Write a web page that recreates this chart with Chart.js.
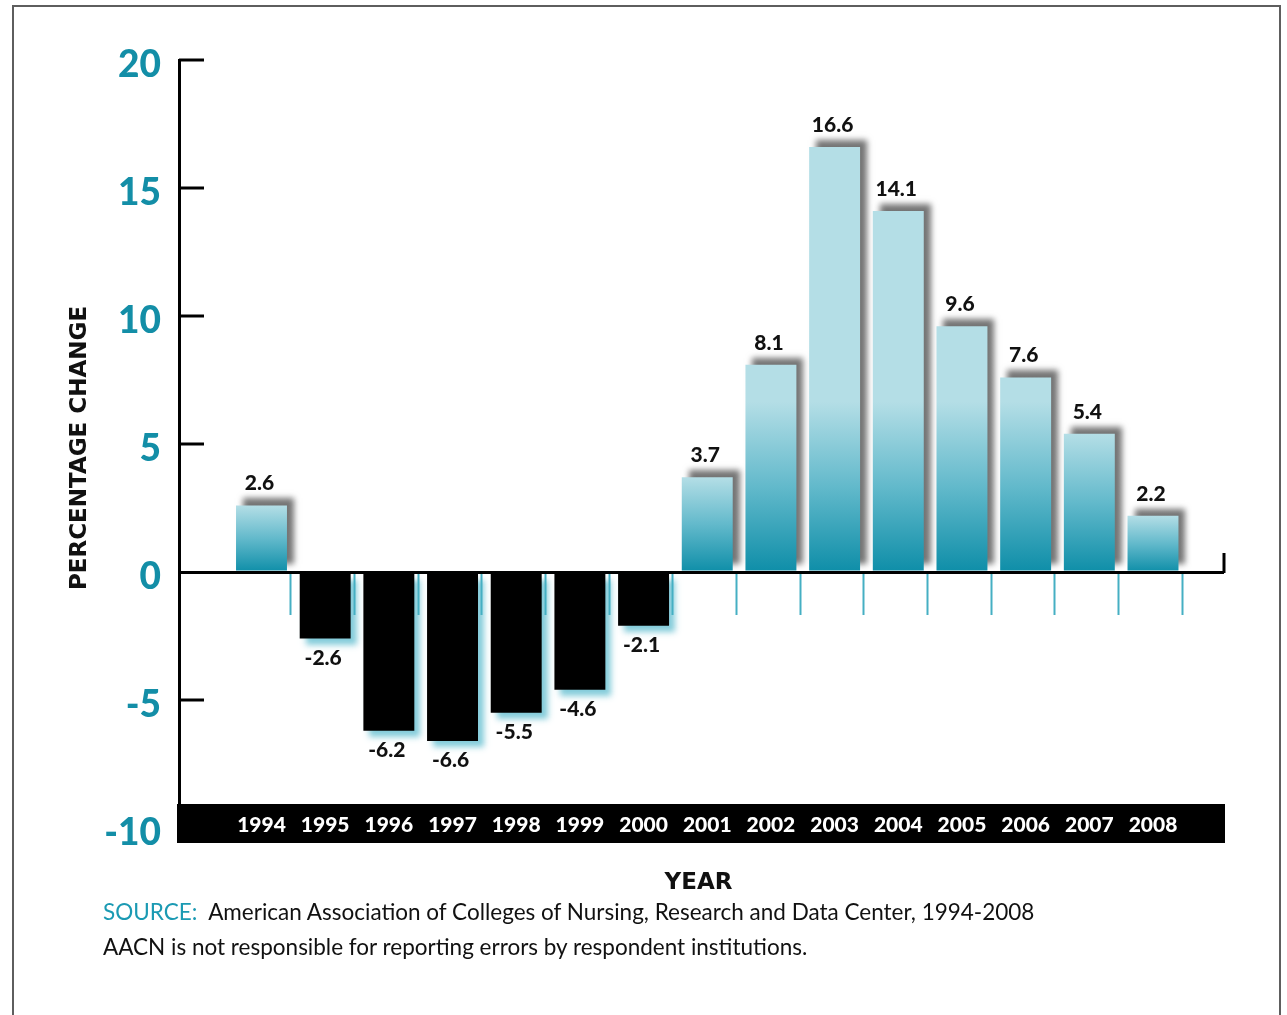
<!DOCTYPE html>
<html><head><meta charset="utf-8">
<script src="https://cdn.jsdelivr.net/npm/chart.js@4.4.1/dist/chart.umd.min.js"></script>
<style>
html,body{margin:0;padding:0;background:#fff;overflow:hidden;}
#wrap{position:relative;width:1287px;height:1015px;overflow:hidden;}
#frame{position:absolute;left:12px;top:5px;width:1265px;height:1100px;border:2px solid #5e5e5e;border-bottom:none;}
#chart{position:absolute;left:0;top:0;width:1287px;height:1015px;}
.note{position:absolute;left:103px;font-family:Lato, sans-serif;font-size:22.5px;color:#111;white-space:nowrap;}
</style></head>
<body><div id="wrap"><div id="frame"></div><div id="chart"><canvas id="c"></canvas></div>
<div class="note" style="top:898px"><span style="color:#1b9ab3">SOURCE:</span>&nbsp; American Association of Colleges of Nursing, Research and Data Center, 1994-2008</div>
<div class="note" style="top:933px">AACN is not responsible for reporting errors by respondent institutions.</div>
</div>
<script>
const years = ['1994','1995','1996','1997','1998','1999','2000','2001','2002','2003','2004','2005','2006','2007','2008'];
const values = [2.6,-2.6,-6.2,-6.6,-5.5,-4.6,-2.1,3.7,8.1,16.6,14.1,9.6,7.6,5.4,2.2];
const yTicks = [20,15,10,5,0,-5,-10];
const yTitle = 'PERCENTAGE CHANGE';
const xTitle = 'YEAR';

const posData = values.map((v,i)=>({x:i, y: v>=0 ? v : null}));
const negData = values.map((v,i)=>({x:i, y: v<0 ? v : null}));

function posGradient(context){
  const chart = context.chart;
  const ys = chart.scales.y;
  if (!chart.chartArea || !ys) return '#6bbfcf';
  const v = values[context.dataIndex];
  const top = ys.getPixelForValue(v), base = ys.getPixelForValue(0);
  const h = Math.max(base - top, 1);
  const g = chart.ctx.createLinearGradient(0, top, 0, base);
  const f = Math.max(0, 1 - 170 / h);
  g.addColorStop(0, '#b4dee6');
  g.addColorStop(f, '#b4dee6');
  g.addColorStop(f + (1 - f) * 0.5, '#62b9cb');
  g.addColorStop(1, '#0e8ea8');
  return g;
}

const deco = {
  id: 'deco',
  beforeDraw(chart){
    const {ctx, chartArea: a} = chart;
    ctx.save();
    ctx.fillStyle = '#000';
    ctx.fillRect(a.left - 2, a.bottom, a.right - a.left + 3, 39);
    ctx.restore();
  },
  beforeDatasetDraw(chart, args){
    const ctx = chart.ctx;
    ctx.save();
    if (args.index === 0) {
      ctx.shadowColor = 'rgba(70,70,70,0.75)';
      ctx.shadowOffsetX = 7; ctx.shadowOffsetY = -7; ctx.shadowBlur = 6;
    } else {
      ctx.shadowColor = 'rgba(110,195,212,0.85)';
      ctx.shadowOffsetX = 6; ctx.shadowOffsetY = 6; ctx.shadowBlur = 6;
    }
  },
  afterDatasetDraw(chart){ chart.ctx.restore(); },
  afterDatasetsDraw(chart){
    const {ctx, chartArea: a, scales: {x, y}} = chart;
    const zy = y.getPixelForValue(0);
    ctx.save();
    ctx.strokeStyle = '#000'; ctx.lineWidth = 3;
    yTicks.forEach(v => {
      if (v === 0 || v === -10) return;
      const py = y.getPixelForValue(v);
      ctx.beginPath(); ctx.moveTo(a.left, py); ctx.lineTo(a.left + 25, py); ctx.stroke();
    });
    ctx.beginPath(); ctx.moveTo(a.right, zy + 1); ctx.lineTo(a.right, zy - 19); ctx.stroke();
    ctx.strokeStyle = '#45afc3'; ctx.lineWidth = 2;
    years.forEach((_, i) => {
      const px = Math.round(x.getPixelForValue(i + 0.45)) + 0.5;
      ctx.beginPath(); ctx.moveTo(px, zy + 2); ctx.lineTo(px, zy + 43); ctx.stroke();
    });
    ctx.fillStyle = '#111';
    ctx.font = '900 21px Lato, sans-serif';
    ctx.textAlign = 'center';
    ctx.textBaseline = 'alphabetic';
    chart.data.datasets.forEach((ds, di) => {
      const meta = chart.getDatasetMeta(di);
      meta.data.forEach((el, i) => {
        const v = ds.data[i].y;
        if (v === null) return;
        const txt = v.toFixed(1);
        if (v >= 0) ctx.fillText(txt, el.x - 2, el.y - 15);
        else ctx.fillText(txt, el.x - 2, el.y + 26);
      });
    });
    ctx.font = 'bold 23px "DejaVu Sans", sans-serif';
    ctx.textBaseline = 'middle';
    ctx.fillText(xTitle, (a.left + a.right) / 2 - 3, a.bottom + 79);
    ctx.save();
    ctx.translate(a.left - 99, zy - 124);
    ctx.rotate(-Math.PI / 2);
    ctx.fillText(yTitle, 0, 0);
    ctx.restore();
    ctx.restore();
  }
};

new Chart(document.getElementById('c'), {
  type: 'bar',
  data: {
    datasets: [
      { label: 'Increase', data: posData, backgroundColor: posGradient, grouped: false, categoryPercentage: 1, barPercentage: 0.8, borderWidth: 0 },
      { label: 'Decrease', data: negData, backgroundColor: '#000', grouped: false, categoryPercentage: 1, barPercentage: 0.8, borderWidth: 0 }
    ]
  },
  options: {
    responsive: true,
    maintainAspectRatio: false,
    animation: false,
    layout: { padding: { top: 60, right: 63, bottom: 0, left: 0 } },
    plugins: { legend: { display: false }, tooltip: { enabled: false } },
    scales: {
      x: {
        type: 'linear',
        position: 'bottom',
        stacked: true,
        offset: false,
        min: -1.2955,
        max: 15.115,
        afterBuildTicks(scale){ scale.ticks = years.map((_, i) => ({ value: i })); },
        afterFit(scale){ scale.height = 211; scale.paddingLeft = 0; scale.paddingRight = 0; },
        grid: { display: false, drawTicks: false },
        border: { display: false },
        ticks: {
          autoSkip: false, maxRotation: 0, minRotation: 0,
          color: '#fff',
          font: { family: 'Lato', weight: '900', size: 21 },
          padding: 9,
          callback: (v) => years[v]
        }
      },
      y: {
        min: -9.0625, max: 20,
        afterBuildTicks(scale){ scale.ticks = yTicks.map(v => ({ value: v })); },
        afterFit(scale){ scale.width = 179; scale.paddingTop = 0; scale.paddingBottom = 0; },
        grid: {
          drawTicks: false,
          color: (c) => (c.tick && c.tick.value === 0) ? '#000' : 'rgba(0,0,0,0)',
          lineWidth: (c) => (c.tick && c.tick.value === 0) ? 3 : 0
        },
        border: { display: true, color: '#000', width: 3 },
        ticks: {
          color: '#138ea7',
          font: { family: 'Lato', weight: '900', size: 37 },
          padding: 18,
          labelOffset: 5,
          callback: (v) => String(v)
        }
      }
    }
  },
  plugins: [deco]
});
</script>
</body></html>
